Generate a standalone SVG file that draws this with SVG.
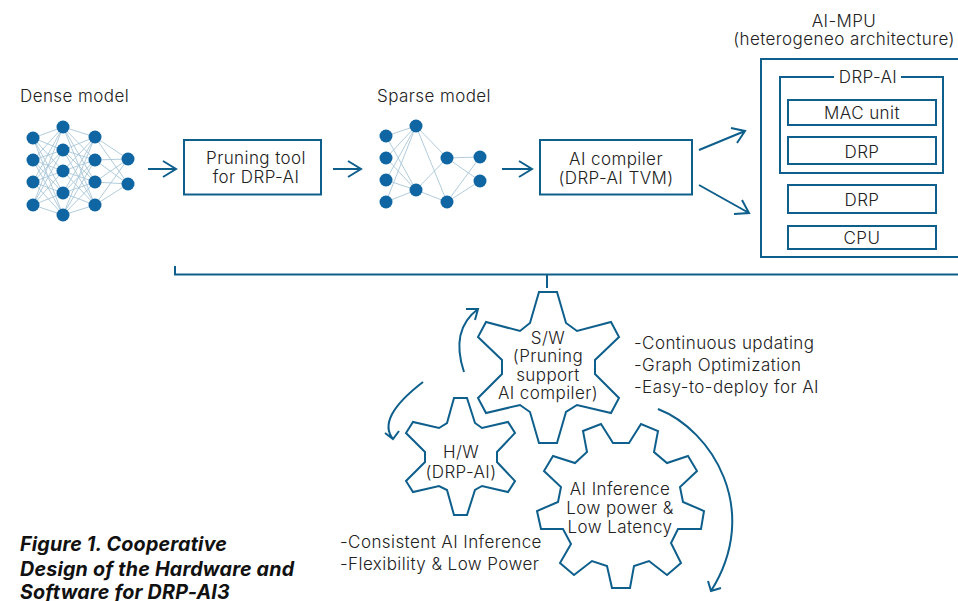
<svg xmlns="http://www.w3.org/2000/svg" width="958" height="601" viewBox="0 0 958 601">
<style>
text{font-family:"Inter","Lato","Liberation Sans",sans-serif;font-size:17px;font-weight:300;fill:#222;letter-spacing:.42px}
.c{text-anchor:middle}
.cap{font-weight:700;font-style:italic;font-size:19.700px;fill:#111;letter-spacing:.2px}
.box{fill:#fff;stroke:#0e5f8c;stroke-width:2}
.gear{fill:#fff;stroke:#0e5f8c;stroke-width:2;stroke-linejoin:miter}
.ln{fill:none;stroke:#0e5f8c;stroke-width:2}
.edge{fill:none;stroke:#a9c6d8;stroke-width:.9}
.n{fill:#0f66a3}
</style>
<rect width="958" height="601" fill="#fff"/>
<g id="connectors">
<path class="ln" d="M175,266V274.500H958M547,275V288"/>
<path class="ln" d="M148,169H175M163,161L176,169L163,177"/>
<path class="ln" d="M333,169H360M348,161L361,169L348,177"/>
<path class="ln" d="M502,169H531M519,161L532,169L519,177"/>
<path class="ln" d="M699,150L745,131M731,128L745,131L737,143"/>
<path class="ln" d="M699,185L749,213M742,200L749,213L734,214"/>
<path class="ln" d="M464,372Q450,330 478,309M466,309L478,309L475,320"/>
<path class="ln" d="M423,382Q376,418 393,439M385,433L393,439L399,431"/>
<path class="ln" d="M658,409C712,430 762,510 711,591M708,581L711,591L721,588"/>
</g>
<g id="dense-model">
<text x="20" y="102">Dense model</text>
<path class="edge" d="M33,138L63,127M33,138L63,150M33,138L63,171M33,138L63,193M33,138L63,215M33,160L63,127M33,160L63,150M33,160L63,171M33,160L63,193M33,160L63,215M33,182L63,127M33,182L63,150M33,182L63,171M33,182L63,193M33,182L63,215M33,205L63,127M33,205L63,150M33,205L63,171M33,205L63,193M33,205L63,215M63,127L95,137M63,127L95,160M63,127L95,182M63,127L95,205M63,150L95,137M63,150L95,160M63,150L95,182M63,150L95,205M63,171L95,137M63,171L95,160M63,171L95,182M63,171L95,205M63,193L95,137M63,193L95,160M63,193L95,182M63,193L95,205M63,215L95,137M63,215L95,160M63,215L95,182M63,215L95,205M95,137L128,159M95,137L128,184M95,160L128,159M95,160L128,184M95,182L128,159M95,182L128,184M95,205L128,159M95,205L128,184"/>
<g class="n"><circle cx="33" cy="138" r="6.500"/><circle cx="33" cy="160" r="6.500"/><circle cx="33" cy="182" r="6.500"/><circle cx="33" cy="205" r="6.500"/><circle cx="63" cy="127" r="6.500"/><circle cx="63" cy="150" r="6.500"/><circle cx="63" cy="171" r="6.500"/><circle cx="63" cy="193" r="6.500"/><circle cx="63" cy="215" r="6.500"/><circle cx="95" cy="137" r="6.500"/><circle cx="95" cy="160" r="6.500"/><circle cx="95" cy="182" r="6.500"/><circle cx="95" cy="205" r="6.500"/><circle cx="128" cy="159" r="6.500"/><circle cx="128" cy="184" r="6.500"/></g>
</g>
<g id="pruning-tool">
<rect class="box" x="184" y="140" width="137" height="54.500"/>
<text class="c" x="256" y="164">Pruning tool</text>
<text class="c" x="256" y="183">for DRP-AI</text>
</g>
<g id="sparse-model">
<text x="377" y="102">Sparse model</text>
<path class="edge" d="M386,136L416,126M386,158L416,126M386,180L416,126M386,202L416,126M386,136L416,190M386,158L416,190M386,180L416,190M386,202L416,190M416,126L447,158M416,126L447,202M416,190L447,158M416,190L447,202M447,158L480,157M447,158L480,181M447,202L480,157M447,202L480,181"/>
<g class="n"><circle cx="386" cy="136" r="6.500"/><circle cx="386" cy="158" r="6.500"/><circle cx="386" cy="180" r="6.500"/><circle cx="386" cy="202" r="6.500"/><circle cx="416" cy="126" r="6.500"/><circle cx="416" cy="190" r="6.500"/><circle cx="447" cy="158" r="6.500"/><circle cx="447" cy="202" r="6.500"/><circle cx="480" cy="157" r="6.500"/><circle cx="480" cy="181" r="6.500"/></g>
</g>
<g id="ai-compiler">
<rect class="box" x="540" y="140" width="152" height="54.500"/>
<text class="c" x="616" y="165">AI compiler</text>
<text class="c" x="616" y="184">(DRP-AI TVM)</text>
</g>
<g id="ai-mpu">
<text class="c" x="844" y="27">AI-MPU</text>
<text class="c" x="844" y="45">(heterogeneo architecture)</text>
<rect class="box" x="761" y="59" width="210" height="198"/>
</g>
<g id="drp-ai">
<path class="ln" d="M834,77H780V173H943V77H901"/>
<text class="c" x="868" y="83">DRP-AI</text>
</g>
<g id="mac-unit"><rect class="box" x="788" y="100" width="148" height="25"/><text class="c" x="862" y="119">MAC unit</text></g>
<g id="drp-1"><rect class="box" x="788" y="137" width="148" height="27"/><text class="c" x="862" y="158">DRP</text></g>
<g id="drp-2"><rect class="box" x="788" y="185" width="148" height="28"/><text class="c" x="862" y="206">DRP</text></g>
<g id="cpu"><rect class="box" x="788" y="226" width="148" height="23"/><text class="c" x="862" y="244">CPU</text></g>
<g id="sw-gear">
<polygon class="gear" points="539,292 557,292 566,323 577,331 611,322 619,337 595,360 595,374 619,398 611,413 577,405 566,412 557,443 539,443 530,412 520,405 486,413 478,398 502,374 502,360 478,337 486,322 520,331 530,323"/>
<text class="c" x="548" y="344">S/W</text>
<text class="c" x="548" y="362">(Pruning</text>
<text class="c" x="548" y="381">support</text>
<text class="c" x="548" y="399">AI compiler)</text>
</g>
<g id="hw-gear">
<polygon class="gear" points="454,398 467,398 475,423 482,428 508,422 515,433 497,452 497,462 515,481 508,492 482,486 475,490 467,515 454,515 447,490 439,486 413,492 406,481 425,462 425,452 406,433 413,422 439,428 447,423"/>
<text class="c" x="461" y="458">H/W</text>
<text class="c" x="461" y="478">(DRP-AI)</text>
</g>
<g id="inference-gear">
<polygon class="gear" points="613,443 629,443 641,424 658,431 654,452 667,463 688,456 697,471 680,487 683,502 704,511 701,529 678,529 671,543 681,563 667,575 649,561 634,566 630,588 612,588 607,566 592,561 574,575 560,563 571,544 563,529 541,529 537,511 558,502 561,487 544,471 553,456 575,463 587,452 583,431 601,424"/>
<text class="c" x="620" y="495">AI Inference</text>
<text class="c" x="620" y="514">Low power &amp;</text>
<text class="c" x="620" y="533">Low Latency</text>
</g>
<g id="sw-notes">
<text x="634" y="349">-Continuous updating</text>
<text x="634" y="371">-Graph Optimization</text>
<text x="634" y="393">-Easy-to-deploy for AI</text>
</g>
<g id="hw-notes">
<text x="340" y="548">-Consistent AI Inference</text>
<text x="340" y="570">-Flexibility &amp; Low Power</text>
</g>
<g id="caption">
<text class="cap" x="20" y="551">Figure 1. Cooperative</text>
<text class="cap" x="20" y="576">Design of the Hardware and</text>
<text class="cap" x="20" y="599">Software for DRP-AI3</text>
</g>
</svg>
